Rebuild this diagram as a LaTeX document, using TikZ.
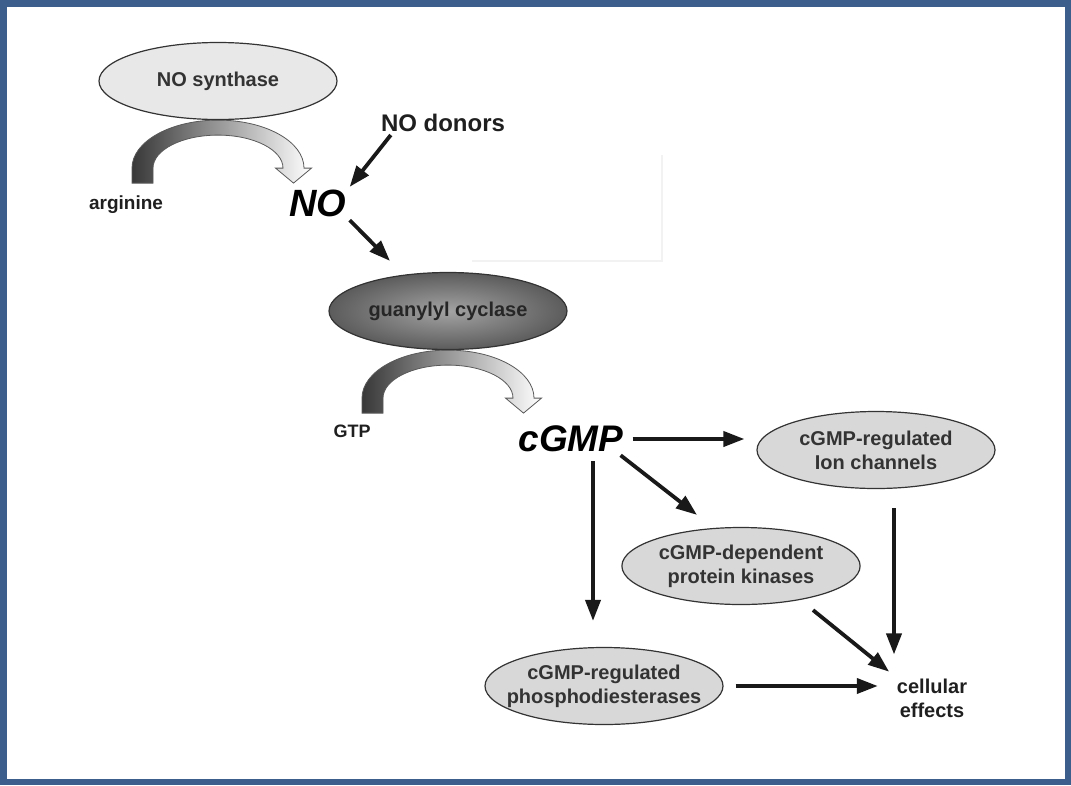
\documentclass[tikz,border=0pt]{standalone}
\usepackage{fontspec}
\setmainfont{Liberation Sans}
\usepackage{tikz}
\usetikzlibrary{arrows.meta,shapes.geometric,shadows,calc,backgrounds}
\definecolor{frameblue}{HTML}{3B5E8C}
\definecolor{enzfill}{HTML}{D8D8D8}

\begin{document}
\begin{tikzpicture}[x=1pt,y=1pt,
    font=\fontsize{20}{24}\selectfont\bfseries,
    enz/.style={ellipse, draw=black!80, line width=1.2pt, fill=enzfill,
      minimum width=238pt, minimum height=77pt, inner sep=2pt,
      align=center, text=black!80},
    lbl/.style={text=black!88, inner sep=3pt, align=center},
    big/.style={text=black, inner sep=3pt,
      font=\fontsize{38}{40}\selectfont\bfseries\itshape},
    arr/.style={line width=3.8pt, draw=black!90,
      -{Triangle[length=21pt,width=15pt]}},
    blankbox/.style={fill=white, minimum width=191pt, minimum height=107pt,
      drop shadow={shadow xshift=1.5pt, shadow yshift=-2pt, opacity=0.1}}]
    \useasboundingbox (0,0) rectangle (1071,-785);
    \draw[frameblue, line width=6.5pt] (3.25,-3.25) rectangle (1067.75,-781.75);

    \node[enz, fill=black!9] (nos) at (218,-81) {NO synthase};
    \node[lbl, font=\fontsize{24}{28}\selectfont\bfseries] (donors) at (443,-123) {NO donors};
    \node[lbl, font=\fontsize{19}{22}\selectfont\bfseries] (arg) at (126,-205) {arginine};
    \node[big] (no) at (318,-203.5) {NO};
    \node[blankbox] (blank) at (565.5,-206) {};
    \node[enz, shade, inner color=black!36, outer color=black!64,
      text=black!85] (gc) at (448,-311) {guanylyl cyclase};
    \node[lbl, font=\fontsize{18}{22}\selectfont\bfseries] (gtp) at (352,-431) {GTP};
    \node[big, font=\fontsize{37}{40}\selectfont\bfseries\itshape] (cgmp) at (571,-439) {cGMP};
    \node[enz] (ion) at (876,-450) {cGMP-regulated\\Ion channels};
    \node[enz] (pkg) at (741,-566) {cGMP-dependent\\protein kinases};
    \node[enz, inner xsep=-30pt] (pde) at (604,-686) {cGMP-regulated\\phosphodiesterases};
    \node[lbl] (eff) at (932,-698) {cellular\\effects};

    \begin{scope}[on background layer]
    \foreach \src in {nos,gc}{
      \begin{scope}[shift={(\src.south)}]
        \shade[left color=black!78, middle color=black!60, right color=white,
          draw=black!65, line width=0.8pt]
          (-86,-63) -- (-86,-48) arc[start angle=180, end angle=0, x radius=86, y radius=48]
          -- (93.5,-48) -- (75.5,-63) -- (57.5,-48) -- (65,-48)
          arc[start angle=0, end angle=180, x radius=65, y radius=33]
          -- (-65,-63) -- cycle;
      \end{scope}
    }
    \end{scope}

    \draw[arr] ([xshift=13pt]donors.south west) -- (no.north east);
    \draw[arr] (no.south east) -- ([xshift=-58pt,yshift=11pt]gc.north);
    \draw[arr, shorten <=6pt, shorten >=12pt] (cgmp.east) -- (cgmp.east -| ion.west);
    \draw[arr] ([xshift=-6pt]cgmp.south east) -- ([xshift=-44pt,yshift=12pt]pkg.north);
    \draw[arr, shorten <=6pt, shorten >=26pt] ([xshift=22pt]cgmp.south)
      -- ([xshift=22pt]cgmp.south |- pde.north);
    \draw[arr, shorten <=19pt, shorten >=21pt] ([xshift=18pt]ion.south)
      -- ([xshift=18pt]ion.south |- eff.north);
    \draw[arr, shorten >=6pt] ([xshift=72pt,yshift=-5pt]pkg.south) -- (eff.north west);
    \draw[arr, shorten <=12pt, shorten >=16pt] (pde.east) -- (pde.east -| eff.west);
\end{tikzpicture}
\end{document}
